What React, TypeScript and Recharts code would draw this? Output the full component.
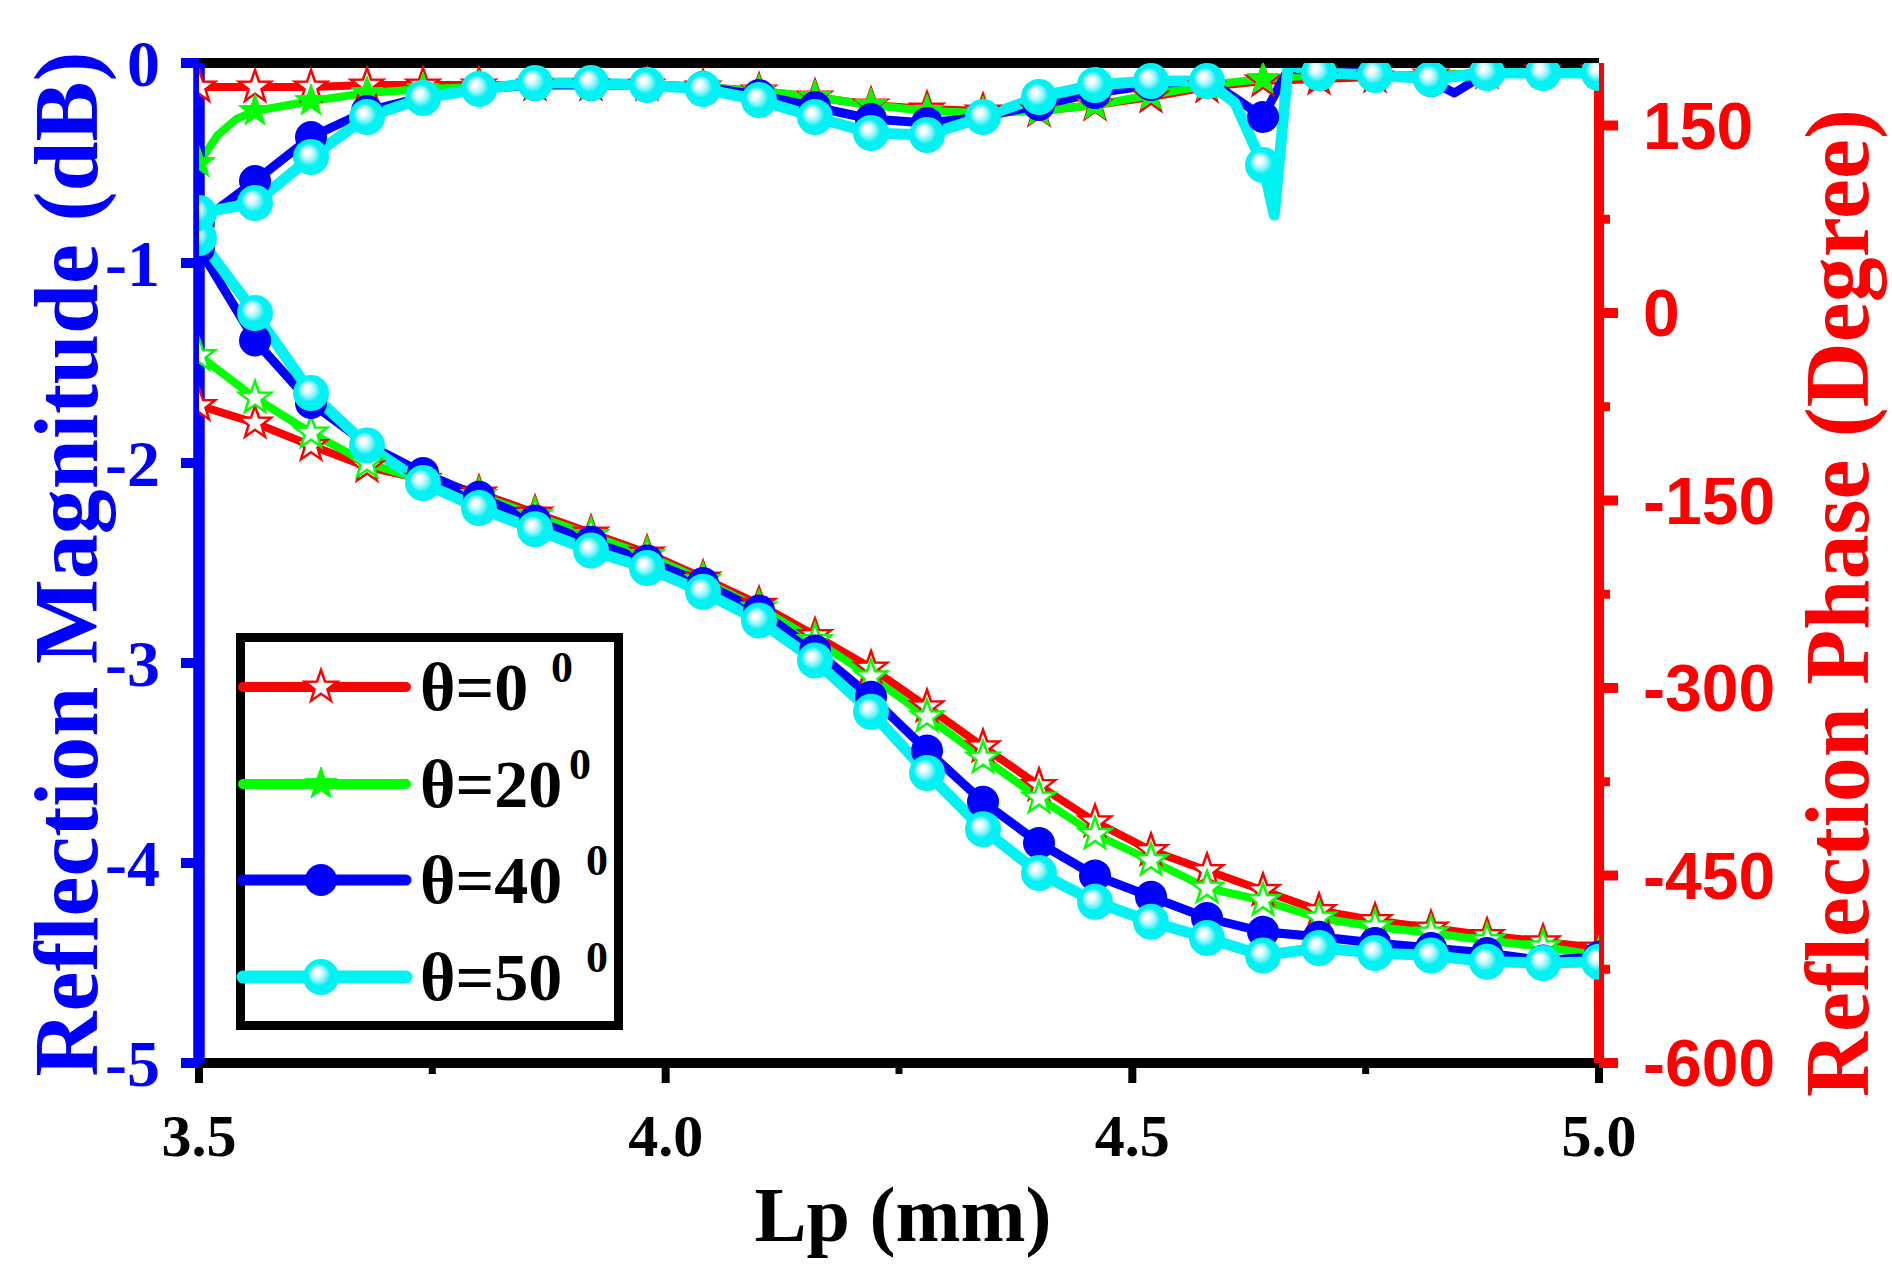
import React from 'react';
import { LineChart, Line, XAxis, YAxis, Legend, ReferenceLine } from 'recharts';

// ---------- data ----------
const LP = [3.5, 3.56, 3.62, 3.68, 3.74, 3.8, 3.86, 3.92, 3.98, 4.04, 4.1, 4.16, 4.22, 4.28, 4.34, 4.4, 4.46, 4.52, 4.58, 4.64, 4.7, 4.76, 4.82, 4.88, 4.94, 5.0];

// Reflection magnitude (dB)
const MAG_0 = [-0.12, -0.12, -0.12, -0.11, -0.11, -0.11, -0.11, -0.11, -0.11, -0.12, -0.14, -0.17, -0.21, -0.23, -0.24, -0.24, -0.21, -0.17, -0.12, -0.09, -0.08, -0.07, -0.06, -0.05, -0.04, -0.04];
const MAG_20 = [-0.5, -0.24, -0.19, -0.15, -0.13, -0.12, -0.11, -0.11, -0.11, -0.12, -0.14, -0.17, -0.21, -0.24, -0.25, -0.24, -0.21, -0.16, -0.11, -0.08, -0.06, -0.06, -0.06, -0.05, -0.04, -0.04];
const MAG_40 = [-0.8, -0.59, -0.37, -0.24, -0.17, -0.13, -0.11, -0.11, -0.11, -0.12, -0.16, -0.22, -0.28, -0.3, -0.27, -0.21, -0.15, -0.11, -0.08, -0.27, -0.04, -0.05, -0.09, -0.05, -0.04, -0.04];
const MAG_50 = [-0.75, -0.7, -0.47, -0.27, -0.175, -0.13, -0.1, -0.1, -0.11, -0.13, -0.185, -0.27, -0.35, -0.36, -0.27, -0.17, -0.11, -0.09, -0.09, -0.51, -0.05, -0.06, -0.08, -0.05, -0.05, -0.05];

// extra (unmarked) samples: [Lp, dB]
const MAG_20_EXTRA = [[3.52, -0.36], [3.54, -0.28]];
const MAG_40_EXTRA = [[4.667, -0.03], [4.845, -0.15]];
const MAG_50_EXTRA = [[4.61, -0.2], [4.652, -0.76], [4.667, -0.01]];

// Reflection phase (degree)
const PH_0 = [-74, -88, -106, -123, -133, -144, -160, -176, -192, -212, -233, -258, -284, -315, -347, -378, -407, -430, -446, -462, -478, -486, -492, -498, -503, -508];
const PH_20 = [-34, -68, -96, -120, -134, -146, -162, -178, -194, -214, -236, -262, -291, -323, -356, -388, -417, -438, -460, -470, -484, -491, -496, -502, -507, -514];
const PH_40 = [52, -22, -72, -105, -128, -147, -166, -183, -198, -216, -238, -270, -307, -350, -391, -424, -450, -467, -484, -495, -499, -504, -508, -512, -518, -515];
const PH_50 = [60, 0, -64, -106, -136, -156, -173, -190, -204, -223, -246, -278, -319, -368, -413, -448, -471, -487, -500, -514, -508, -512, -514, -519, -520, -519];

const X_TICKS = [3.5, 3.75, 4.0, 4.25, 4.5, 4.75, 5.0];
const X_MAJOR = [3.5, 4.0, 4.5, 5.0];
const MAG_TICKS = [-5, -4, -3, -2, -1, 0];
const PH_TICKS = [-600, -525, -450, -375, -300, -225, -150, -75, 0, 75, 150];

const LEGEND_NAMES = ['θ=0', 'θ=20', 'θ=40', 'θ=50'];
const LEGEND_SUP = ['0', '0', '0', '0'];

// ---------- styles ----------
const RED = '#FF0000';
const GREEN = '#00FF00';
const BLUE = '#0000FF';
const CYAN = '#00F2F2';
const SERIF = "'Liberation Serif', 'Times New Roman', serif";
const SANS = "'Liberation Sans', Arial, sans-serif";

const toPoints = (ys: number[], extra: number[][] = []) =>
  [
    ...LP.map((x, i) => ({ x, y: ys[i], m: true })),
    ...extra.map(([x, y]) => ({ x, y, m: false })),
  ].sort((a, b) => a.x - b.x);

function starPath(cx: number, cy: number, R: number, r: number) {
  let d = '';
  for (let i = 0; i < 10; i++) {
    const ang = -Math.PI / 2 + (i * Math.PI) / 5;
    const rad = i % 2 === 0 ? R : r;
    const px = cx + rad * Math.cos(ang);
    const py = cy + rad * Math.sin(ang);
    d += (i === 0 ? 'M' : 'L') + px.toFixed(2) + ',' + py.toFixed(2);
  }
  return d + 'Z';
}

function Marker({ kind, color, cx, cy, grad }: any) {
  if (kind === 'starHollow')
    return <path d={starPath(cx, cy, 17, 6.8)} fill="#FFFFFF" stroke={color} strokeWidth={2.5} strokeLinejoin="miter" />;
  if (kind === 'starFilled')
    return <path d={starPath(cx, cy, 17, 6.8)} fill={color} stroke={color} strokeWidth={1} />;
  if (kind === 'circle') return <circle cx={cx} cy={cy} r={16} fill={color} />;
  return <circle cx={cx} cy={cy} r={18} fill={`url(#${grad || 'cyanBall'})`} />;
}

const makeDot = (kind: string, color: string) => (props: any) => {
  const { cx, cy, payload, index } = props;
  if (!payload || !payload.m || cx == null || cy == null) return <g key={`e${index}`} />;
  return (
    <g key={`d${index}`}>
      <Marker kind={kind} color={color} cx={cx} cy={cy} />
    </g>
  );
};

const SERIES = [
  { id: 'p0', axis: 'ph', data: toPoints(PH_0), color: RED, width: 8, kind: 'starHollow' },
  { id: 'm0', axis: 'mag', data: toPoints(MAG_0), color: RED, width: 8, kind: 'starHollow' },
  { id: 'p20', axis: 'ph', data: toPoints(PH_20), color: GREEN, width: 8, kind: 'starHollow' },
  { id: 'm20', axis: 'mag', data: toPoints(MAG_20, MAG_20_EXTRA), color: GREEN, width: 8, kind: 'starFilled' },
  { id: 'p40', axis: 'ph', data: toPoints(PH_40), color: BLUE, width: 9, kind: 'circle' },
  { id: 'm40', axis: 'mag', data: toPoints(MAG_40, MAG_40_EXTRA), color: BLUE, width: 9, kind: 'circle' },
  { id: 'p50', axis: 'ph', data: toPoints(PH_50), color: CYAN, width: 11, kind: 'ball' },
  { id: 'm50', axis: 'mag', data: toPoints(MAG_50, MAG_50_EXTRA), color: CYAN, width: 11, kind: 'ball' },
];

const LEGEND_STYLE = [
  { color: RED, width: 10, kind: 'starHollow' },
  { color: GREEN, width: 10, kind: 'starFilled' },
  { color: BLUE, width: 11, kind: 'circle' },
  { color: CYAN, width: 13, kind: 'ball' },
];

// ---------- ticks ----------
const XTick = (props: any) => {
  const { x, y, payload } = props;
  const v = payload.value;
  const major = X_MAJOR.some((m) => Math.abs(m - v) < 1e-6);
  return (
    <g>
      <line x1={x} y1={y} x2={x} y2={y + (major ? 20 : 11)} stroke="#000" strokeWidth={major ? 8 : 7} />
      {major && (
        <text x={x} y={y + 93} textAnchor="middle" fontFamily={SERIF} fontWeight="bold" fontSize={60} fill="#000">
          {v.toFixed(1)}
        </text>
      )}
    </g>
  );
};

const LeftTick = (props: any) => {
  const { x, y, payload } = props;
  return (
    <g>
      <line x1={x} y1={y} x2={x - 18} y2={y} stroke={BLUE} strokeWidth={10} />
      <text x={x - 39} y={y + 23} textAnchor="end" fontFamily={SERIF} fontWeight="bold" fontSize={66} fill={BLUE}>
        {String(payload.value)}
      </text>
    </g>
  );
};

const RightTick = (props: any) => {
  const { x, y, payload } = props;
  const v = payload.value;
  const major = v % 150 === 0;
  return (
    <g>
      <line x1={x} y1={y} x2={x + (major ? 19 : 11)} y2={y} stroke={RED} strokeWidth={major ? 10 : 9} />
      {major && (
        <text x={x + 44} y={y + 23} textAnchor="start" fontFamily={SANS} fontWeight="bold" fontSize={66} fill={RED}>
          {String(v)}
        </text>
      )}
    </g>
  );
};

// ---------- titles ----------
const LeftTitle = (props: any) => {
  const vb = props.viewBox;
  const bx = vb.x + 97;
  const cy = vb.y + vb.height / 2 + 1;
  return (
    <text transform={`translate(${bx},${cy}) rotate(-90)`} textAnchor="middle" fontFamily={SERIF} fontWeight="bold" fontSize={90} fill={BLUE}>
      Reflection Magnitude (dB)
    </text>
  );
};

const RightTitle = (props: any) => {
  const vb = props.viewBox;
  const bx = vb.x + 269;
  const cy = vb.y + vb.height / 2 + 40;
  return (
    <text transform={`translate(${bx},${cy}) rotate(-90)`} textAnchor="middle" fontFamily={SERIF} fontWeight="bold" fontSize={90} fill={RED}>
      Reflection Phase (Degree)
    </text>
  );
};

const XTitle = (props: any) => {
  const vb = props.viewBox;
  return (
    <text x={vb.x + vb.width / 2 + 4} y={vb.y + 178} textAnchor="middle" fontFamily={SERIF} fontWeight="bold" fontSize={78} fill="#000">
      Lp (mm)
    </text>
  );
};

// ---------- legend ----------
const ROW_Y = [54, 151, 247, 344];
const SUP_X = [315, 333, 350, 350];

const LegendBox = () => (
  <svg width={392} height={402} style={{ display: 'block', overflow: 'visible' }}>
    <defs>
      <radialGradient id="cyanBallLeg" cx="0.5" cy="0.5" r="0.5" fx="0.36" fy="0.34">
        <stop offset="0" stopColor="#FFFFFF" />
        <stop offset="0.15" stopColor="#FFFFFF" />
        <stop offset="0.32" stopColor="#B8FAFF" />
        <stop offset="0.5" stopColor="#5FF0F5" />
        <stop offset="0.62" stopColor={CYAN} />
        <stop offset="1" stopColor={CYAN} />
      </radialGradient>
    </defs>
    <rect x={4.5} y={4.5} width={378} height={388} fill="#FFFFFF" stroke="#000" strokeWidth={9} />
    {LEGEND_NAMES.map((name, i) => {
      const st = LEGEND_STYLE[i];
      const cy = ROW_Y[i];
      return (
        <g key={name}>
          <line x1={7} y1={cy} x2={170} y2={cy} stroke={st.color} strokeWidth={st.width} strokeLinecap="round" />
          <Marker kind={st.kind} color={st.color} cx={85} cy={cy} grad="cyanBallLeg" />
          <text x={184} y={cy + 23} fontFamily={SERIF} fontWeight="bold" fontSize={68} fill="#000">
            {name}
          </text>
          <text x={SUP_X[i]} y={cy - 5} fontFamily={SERIF} fontWeight="bold" fontSize={44} fill="#000">
            {LEGEND_SUP[i]}
          </text>
        </g>
      );
    })}
  </svg>
);

export default function App() {
  return (
    <div style={{ position: 'absolute', left: 0, top: 0, width: 1892, height: 1282, background: '#FFFFFF' }}>
      <LineChart width={1892} height={1282} margin={{ top: 63, right: 0, bottom: 0, left: 0 }}>
        <defs>
          <radialGradient id="cyanBall" cx="0.5" cy="0.5" r="0.5" fx="0.36" fy="0.34">
            <stop offset="0" stopColor="#FFFFFF" />
            <stop offset="0.15" stopColor="#FFFFFF" />
            <stop offset="0.32" stopColor="#B8FAFF" />
            <stop offset="0.5" stopColor="#5FF0F5" />
            <stop offset="0.62" stopColor={CYAN} />
            <stop offset="1" stopColor={CYAN} />
          </radialGradient>
        </defs>
        <XAxis
          type="number"
          dataKey="x"
          domain={[3.5, 5.0]}
          ticks={X_TICKS}
          interval={0}
          allowDataOverflow
          height={219}
          axisLine={{ stroke: '#000', strokeWidth: 10 }}
          tickLine={false}
          tickSize={0}
          tickMargin={0}
          tick={XTick}
          label={XTitle}
        />
        <YAxis
          yAxisId="mag"
          orientation="left"
          type="number"
          dataKey="y"
          domain={[-5, 0]}
          ticks={MAG_TICKS}
          interval={0}
          allowDataOverflow
          width={199}
          axisLine={{ stroke: BLUE, strokeWidth: 11 }}
          tickLine={false}
          tickSize={0}
          tickMargin={0}
          tick={LeftTick}
          label={LeftTitle}
        />
        <YAxis
          yAxisId="ph"
          orientation="right"
          type="number"
          dataKey="y"
          domain={[-600, 200]}
          ticks={PH_TICKS}
          interval={0}
          allowDataOverflow
          width={293}
          axisLine={{ stroke: RED, strokeWidth: 10 }}
          tickLine={false}
          tickSize={0}
          tickMargin={0}
          tick={RightTick}
          label={RightTitle}
        />
        {SERIES.map((s) => (
          <Line
            key={s.id}
            yAxisId={s.axis}
            data={s.data}
            dataKey="y"
            type="linear"
            stroke={s.color}
            strokeWidth={s.width}
            strokeLinejoin="round"
            dot={makeDot(s.kind, s.color)}
            activeDot={false}
            isAnimationActive={false}
            legendType="none"
          />
        ))}
        {/* frame redrawn above the curves, as in the reference */}
        <ReferenceLine yAxisId="mag" y={0} stroke="#000" strokeWidth={10} />
        <ReferenceLine yAxisId="mag" y={-5} stroke="#000" strokeWidth={10} />
        <ReferenceLine yAxisId="mag" x={3.5} stroke={BLUE} strokeWidth={11} />
        <ReferenceLine yAxisId="ph" x={5.0} stroke={RED} strokeWidth={10} />
        <Legend
          layout="vertical"
          verticalAlign="middle"
          align="center"
          content={() => <LegendBox />}
          wrapperStyle={{ position: 'absolute', left: 236, top: 633, width: 392, height: 402 }}
        />
      </LineChart>
    </div>
  );
}
